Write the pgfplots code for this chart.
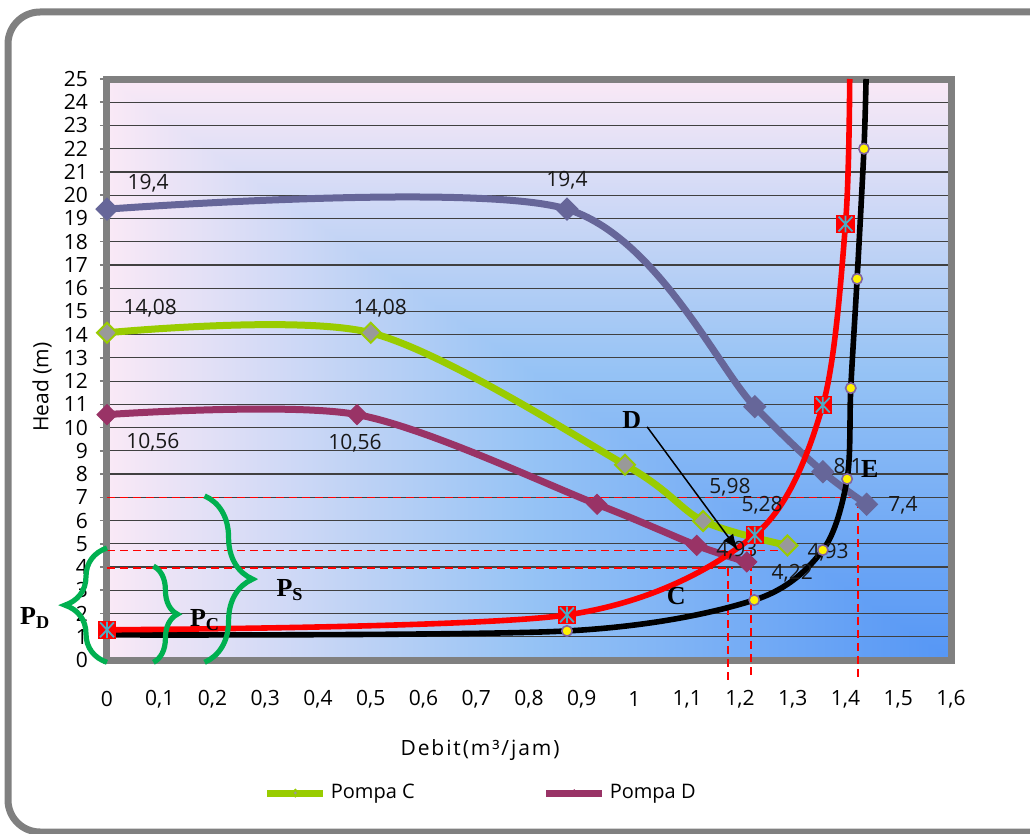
\documentclass[border=0pt]{standalone}
\usepackage{fontspec}
\setmainfont{Open Sans}
\newfontfamily\tnr{Liberation Serif}
\usepackage{pgfplots}
\pgfplotsset{compat=1.18}
\usetikzlibrary{decorations.pathreplacing,arrows.meta,shadings}
\definecolor{cBlue}{HTML}{666699}
\definecolor{cGreen}{HTML}{99CC00}
\definecolor{cPurple}{HTML}{993366}
\definecolor{cFrame}{HTML}{808080}
\definecolor{cBrace}{HTML}{00B050}
\definecolor{cStar}{HTML}{4BACC6}
\definecolor{cGrid}{HTML}{404040}
\definecolor{cDotB}{HTML}{8064A2}

% corner gradient: blue at lower right, pink towards top and left
% (the path fills the central 50bp x 50bp part of the 100bp shading)
\pgfdeclarefunctionalshading{cornerbg}{\pgfpoint{0bp}{0bp}}{\pgfpoint{100bp}{100bp}}{}{%
  25 sub 50 div exch 25 sub 50 div 1 exch sub 2 copy lt {exch} if pop
  dup 1 gt {pop 1} if dup 0 lt {pop 0} if
  dup 0.5 le
  {2 mul dup 0.2549 mul 0.3333 add exch 0.1765 mul 0.5882 add 0.9608}
  {2 mul 1 sub dup 0.3922 mul 0.5882 add exch dup 0.1490 mul 0.7647 add exch 0.0039 mul 0.9608 add}
  ifelse
}

\pgfdeclareplotmark{sqstar}{%
  \pgfpathrectangle{\pgfqpoint{-\pgfplotmarksize}{-\pgfplotmarksize}}{\pgfqpoint{2\pgfplotmarksize}{2\pgfplotmarksize}}%
  \pgfsetfillcolor{red}\pgfusepathqfill
  \pgfsetstrokecolor{cStar}\pgfsetlinewidth{0.9pt}%
  \pgfpathmoveto{\pgfqpoint{0pt}{-0.9\pgfplotmarksize}}\pgfpathlineto{\pgfqpoint{0pt}{0.9\pgfplotmarksize}}%
  \pgfpathmoveto{\pgfqpoint{-0.75\pgfplotmarksize}{-0.8\pgfplotmarksize}}\pgfpathlineto{\pgfqpoint{0.75\pgfplotmarksize}{0.8\pgfplotmarksize}}%
  \pgfpathmoveto{\pgfqpoint{-0.75\pgfplotmarksize}{0.8\pgfplotmarksize}}\pgfpathlineto{\pgfqpoint{0.75\pgfplotmarksize}{-0.8\pgfplotmarksize}}%
  \pgfusepathqstroke
}

\begin{document}
\begin{tikzpicture}
\useasboundingbox (0pt,0pt) rectangle (515pt,-417pt);
\fill[white] (0pt,0pt) rectangle (515pt,-417pt);
\draw[cFrame, line width=3.5pt, rounded corners=16pt] (4pt,-6pt) rectangle (540pt,-416pt);
\begin{axis}[
  at={(53.5pt,-330pt)}, anchor=south west,
  scale only axis, width=422pt, height=290.5pt,
  xmin=0, xmax=1.6, ymin=0, ymax=25,
  xtick={0,0.1,0.2,0.3,0.4,0.5,0.6,0.7,0.8,0.9,1,1.1,1.2,1.3,1.4,1.5,1.6},
  ytick={0,1,...,25},
  tick pos=left,
  ymajorgrids, grid style={color=cGrid, line width=0.6pt},
  axis line style={cFrame, line width=3.5pt},
  axis background/.style={shading=cornerbg},
  x tick style={draw=none},
  y tick style={cFrame, line width=0.8pt},
  tick align=outside, major tick length=3.5pt,
  clip=false,
  /pgf/number format/use comma,
  /pgf/number format/assume math mode=true,
  tick label style={font=\fontsize{10.5}{12}\selectfont, text=black},
  xticklabel style={anchor=center, yshift=-16pt},
  yticklabel style={anchor=east, xshift=-2.5pt},
  xlabel={\addfontfeature{LetterSpace=9}Debit(m³/jam)},
  xlabel style={at={(axis description cs:0.442,-0.155)}, anchor=center, font=\fontsize{10.5}{12}\selectfont},
  ylabel={Head (m)},
  ylabel style={at={(axis description cs:-0.077,0.47)}, anchor=center, font=\fontsize{10.5}{12}\selectfont},
  legend style={at={(0.444,-0.229)}, anchor=center, draw=none, fill=none, legend columns=2,
    font=\fontsize{10}{12}\selectfont,
    /tikz/every even column/.append style={column sep=62pt}},
  legend image code/.code={
    \draw[#1, mark=none] (0pt,0pt) -- (28pt,0pt);
    \draw[#1, line width=0.6pt, mark size=1.6pt] plot coordinates {(14pt,0pt)};
  },
  smooth, tension=0.5,
]
% dashed guide lines
\draw[red, line width=0.8pt, dash pattern=on 4pt off 2.5pt] (axis cs:0,7) -- (axis cs:1.424,7) -- (axis cs:1.424,-0.86);
\draw[red, line width=0.8pt, dash pattern=on 4pt off 2.5pt] (axis cs:0,4.72) -- (axis cs:1.30,4.72);
\draw[red, line width=0.8pt, dash pattern=on 4pt off 2.5pt] (axis cs:1.221,4.72) -- (axis cs:1.221,-0.86);
\draw[red, line width=0.8pt, dash pattern=on 4pt off 2.5pt] (axis cs:0,3.95) -- (axis cs:1.187,3.95);
\draw[red, line width=0.8pt, dash pattern=on 4pt off 2.5pt] (axis cs:1.177,3.95) -- (axis cs:1.177,-0.86);

% Pompa C
\addplot[cGreen, line width=3.5pt, mark=diamond*, mark size=5pt,
  mark options={fill=gray!80, draw=cGreen, line width=1pt, xscale=1.33}]
  coordinates {(0,14.08) (0.5,14.08) (0.982,8.4) (1.13,5.98) (1.29,4.93)};
\addlegendentry{Pompa C}
% Pompa D
\addplot[cPurple, line width=3.5pt, mark=diamond*, mark size=5pt,
  mark options={fill=cPurple, draw=cPurple, line width=0.5pt, xscale=1.33}]
  coordinates {(0,10.56) (0.474,10.56) (0.929,6.7) (1.118,4.93) (1.213,4.22)};
\addlegendentry{Pompa D}
% Pompa C + D (series)
\addplot[cBlue, line width=3.5pt, mark=diamond*, mark size=5.5pt, forget plot,
  mark options={fill=cBlue, draw=cBlue, line width=0.5pt, xscale=1.33}]
  coordinates {(0,19.4) (0.872,19.4) (1.228,10.9) (1.357,8.1) (1.44,6.7)};
% system curve E (black)
\addplot[black, line width=2.8pt, forget plot, mark=*, mark size=2.6pt, mark indices={2,3,4,5,6,7,8},
  mark options={fill=yellow, draw=cDotB, line width=0.8pt}]
  coordinates {(0,1.08) (0.872,1.25) (1.227,2.58) (1.357,4.73) (1.403,7.79) (1.41,11.7) (1.422,16.4) (1.435,22.0) (1.439,25)};
% system curve C (red)
\addplot[red, line width=2.8pt, forget plot, mark=sqstar, mark size=4.6pt, mark indices={1,2,3,4,5}]
  coordinates {(0,1.3) (0.872,1.94) (1.228,5.38) (1.357,10.97) (1.40,18.76) (1.408,25)};

% data labels
\begin{scope}[every node/.style={font=\fontsize{10.5}{12}\selectfont, text=black!90, inner sep=0pt}]
\node at (axis cs:0.078,20.52) {19,4};
\node at (axis cs:0.872,20.65) {19,4};
\node at (axis cs:0.082,15.15) {14,08};
\node at (axis cs:0.518,15.15) {14,08};
\node at (axis cs:0.087,9.38) {10,56};
\node at (axis cs:0.47,9.34) {10,56};
\node at (axis cs:1.181,7.44) {5,98};
\node at (axis cs:1.242,6.67) {5,28};
\node at (axis cs:1.194,4.73) {4,93};
\node at (axis cs:1.367,4.65) {4,93};
\node at (axis cs:1.299,3.74) {4,22};
\node at (axis cs:1.405,8.30) {8,1};
\node at (axis cs:1.509,6.67) {7,4};
\end{scope}
\begin{scope}[every node/.style={font=\tnr\bfseries\fontsize{13}{15}\selectfont, inner sep=0pt}]
\node at (axis cs:1.446,8.22) {E};
\node at (axis cs:0.995,10.33) {D};
\node at (axis cs:1.079,2.75) {C};
\node at (axis cs:-0.136,1.81) {P\textsubscript{D}};
\node at (axis cs:0.186,1.72) {P\textsubscript{C}};
\node at (axis cs:0.347,3.0) {P\textsubscript{S}};
\end{scope}
\draw[-{Latex[length=8pt,width=6pt]}, line width=0.75pt] (axis cs:1.024,10.03) -- (axis cs:1.196,4.73);
% braces
\draw[cBrace, line width=2.6pt, decorate, decoration={brace, amplitude=21pt}] (axis cs:0,-0.1) -- (axis cs:0,4.82);
\draw[cBrace, line width=2.6pt, decorate, decoration={brace, amplitude=12pt}] (axis cs:0.088,4.04) -- (axis cs:0.088,-0.1);
\draw[cBrace, line width=2.6pt, decorate, decoration={brace, amplitude=24pt}] (axis cs:0.185,7.06) -- (axis cs:0.185,-0.1);
\end{axis}
\end{tikzpicture}
\end{document}
